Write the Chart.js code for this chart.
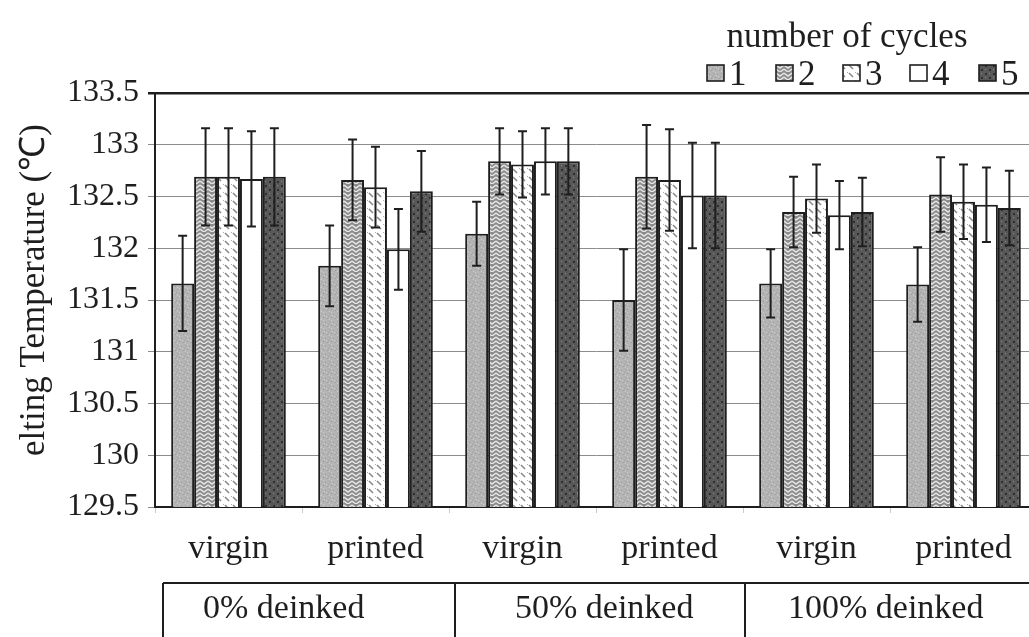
<!DOCTYPE html>
<html>
<head>
<meta charset="utf-8">
<script src="https://cdn.jsdelivr.net/npm/chart.js@4.4.1/dist/chart.umd.min.js"></script>
<style>
  html, body { margin: 0; padding: 0; background: #fff; overflow: hidden; }
  #wrap { position: relative; width: 1045px; height: 637px; }
</style>
</head>
<body>
<div id="wrap"><canvas id="chart"></canvas></div>
<script>
// ── Data ─────────────────────────────────────────────────
const categories = ["virgin", "printed", "virgin", "printed", "virgin", "printed"];
const groups = ["0% deinked", "50% deinked", "100% deinked"];
const cycles = ["1", "2", "3", "4", "5"];

const cycle1 = [131.66, 131.83, 132.14, 131.50, 131.66, 131.65];
const cycle2 = [132.69, 132.66, 132.84, 132.69, 132.35, 132.52];
const cycle3 = [132.69, 132.59, 132.81, 132.66, 132.48, 132.45];
const cycle4 = [132.67, 131.99, 132.84, 132.51, 132.32, 132.42];
const cycle5 = [132.69, 132.55, 132.84, 132.51, 132.35, 132.39];

const err1 = [0.46, 0.39, 0.31, 0.49, 0.33, 0.36];
const err2 = [0.47, 0.39, 0.32, 0.50, 0.34, 0.36];
const err3 = [0.47, 0.39, 0.32, 0.49, 0.33, 0.36];
const err4 = [0.46, 0.39, 0.32, 0.51, 0.33, 0.36];
const err5 = [0.47, 0.39, 0.32, 0.51, 0.33, 0.36];

const yTicks = [129.5, 130, 130.5, 131, 131.5, 132, 132.5, 133, 133.5];

const FONT = "'Liberation Serif', 'Times New Roman', serif";
const INK = "#1e1e1e";

// ── Fill patterns ────────────────────────────────────────
function makePattern(kind) {
  const c = document.createElement("canvas");
  c.width = 8; c.height = 8;
  const g = c.getContext("2d");
  if (kind === 1) {
    g.fillStyle = "#b4b4b4"; g.fillRect(0, 0, 8, 8);
    g.fillStyle = "#9c9c9c";
    [[1, 1], [5, 2], [3, 5], [7, 6], [0, 4]].forEach(([x, y]) => g.fillRect(x, y, 1, 1));
    g.fillStyle = "#cdcdcd";
    [[3, 0], [6, 4], [1, 7], [4, 3]].forEach(([x, y]) => g.fillRect(x, y, 1, 1));
  } else if (kind === 2) {
    g.fillStyle = "#8c8c8c"; g.fillRect(0, 0, 8, 8);
    g.strokeStyle = "#e6e6e6"; g.lineWidth = 1.4;
    g.beginPath(); g.moveTo(0, 1); g.lineTo(4, 4); g.lineTo(8, 1); g.stroke();
    g.beginPath(); g.moveTo(0, 5); g.lineTo(4, 8); g.lineTo(8, 5); g.stroke();
  } else if (kind === 3) {
    g.fillStyle = "#ffffff"; g.fillRect(0, 0, 8, 8);
    g.strokeStyle = "#8a8a8a"; g.lineWidth = 1.6;
    g.beginPath(); g.moveTo(1, 1); g.lineTo(5, 5); g.stroke();
    g.beginPath(); g.moveTo(5, -3); g.lineTo(9, 1); g.stroke();
  } else if (kind === 4) {
    g.fillStyle = "#ffffff"; g.fillRect(0, 0, 8, 8);
  } else {
    g.fillStyle = "#585858"; g.fillRect(0, 0, 8, 8);
    g.fillStyle = "#2e2e2e";
    g.fillRect(1, 1, 2, 2); g.fillRect(5, 5, 2, 2);
    g.fillStyle = "#8a8a8a";
    g.fillRect(5, 1, 1, 1); g.fillRect(1, 5, 1, 1);
  }
  return g.createPattern(c, "repeat");
}

const seriesValues = [cycle1, cycle2, cycle3, cycle4, cycle5];
const seriesErrors = [err1, err2, err3, err4, err5];

const datasets = cycles.map((name, i) => ({
  label: name,
  data: seriesValues[i],
  errors: seriesErrors[i],
  backgroundColor: makePattern(i + 1),
  borderColor: INK,
  borderWidth: 2,
  categoryPercentage: 0.78,
  barPercentage: 1.0,
}));

// ── Error bars ───────────────────────────────────────────
const errorBars = {
  id: "errorBars",
  afterDatasetsDraw(chart) {
    const ctx = chart.ctx;
    const y = chart.scales.y;
    ctx.save();
    ctx.strokeStyle = INK;
    ctx.lineWidth = 2;
    chart.data.datasets.forEach((ds, di) => {
      chart.getDatasetMeta(di).data.forEach((bar, i) => {
        const v = ds.data[i], e = ds.errors[i];
        const top = y.getPixelForValue(v + e);
        const bot = y.getPixelForValue(v - e);
        ctx.beginPath();
        ctx.moveTo(bar.x, top); ctx.lineTo(bar.x, bot);
        ctx.moveTo(bar.x - 4.5, top); ctx.lineTo(bar.x + 4.5, top);
        ctx.moveTo(bar.x - 4.5, bot); ctx.lineTo(bar.x + 4.5, bot);
        ctx.stroke();
      });
    });
    ctx.restore();
  },
};

// ── Legend, axis title, group table ──────────────────────
const decorations = {
  id: "decorations",
  afterDraw(chart) {
    const ctx = chart.ctx;
    ctx.save();
    ctx.fillStyle = INK;
    ctx.font = `35px ${FONT}`;
    ctx.textBaseline = "alphabetic";

    // legend
    ctx.textAlign = "center";
    ctx.fillText("number of cycles", 847, 47);
    const legendX = [707, 776, 843, 910, 979];
    chart.data.datasets.forEach((ds, i) => {
      const x = legendX[i];
      ctx.fillStyle = ds.backgroundColor;
      ctx.fillRect(x, 65, 17, 16);
      ctx.strokeStyle = INK;
      ctx.lineWidth = 1.6;
      ctx.strokeRect(x, 65, 17, 16);
      ctx.fillStyle = INK;
      ctx.textAlign = "left";
      ctx.fillText(ds.label, x + 22, 85);
    });

    // y-axis title (cropped in the original)
    ctx.save();
    ctx.translate(44, 290);
    ctx.rotate(-Math.PI / 2);
    ctx.textAlign = "center";
    ctx.fillText("elting Temperature (\u2103)", 0, 0);
    ctx.restore();

    // group table
    ctx.strokeStyle = INK;
    ctx.lineWidth = 2;
    ctx.beginPath();
    ctx.moveTo(163, 583); ctx.lineTo(1045, 583);
    [163, 455, 745].forEach((x) => { ctx.moveTo(x, 583); ctx.lineTo(x, 637); });
    ctx.stroke();
    ctx.font = `34px ${FONT}`;
    ctx.textAlign = "left";
    const groupX = [203, 515, 788];
    groups.forEach((g, i) => ctx.fillText(g, groupX[i], 618));
    ctx.restore();
  },
};

// ── Chart ────────────────────────────────────────────────
new Chart(document.getElementById("chart"), {
  type: "bar",
  data: { labels: categories, datasets },
  options: {
    responsive: true,
    maintainAspectRatio: false,
    animation: false,
    layout: { padding: { top: 93, left: 0, right: 8, bottom: 0 } },
    plugins: { legend: { display: false }, tooltip: { enabled: false } },
    scales: {
      x: {
        afterFit: (s) => { s.height = 130; },
        border: { color: INK, width: 2 },
        grid: { drawOnChartArea: false, tickLength: 6, color: "#cccccc" },
        ticks: { color: INK, font: { family: FONT, size: 34 }, padding: 16 },
      },
      y: {
        min: 129.5,
        max: 133.5,
        afterFit: (s) => { s.width = 155; },
        afterBuildTicks: (s) => { s.ticks = yTicks.map((v) => ({ value: v })); },
        border: { color: INK, width: 2 },
        grid: {
          tickLength: 7,
          color: (c) => (c.tick && c.tick.value === 133.5 ? INK : "#8c8c8c"),
          lineWidth: (c) => (c.tick && c.tick.value === 133.5 ? 2.5 : 1),
        },
        ticks: {
          color: INK,
          font: { family: FONT, size: 32 },
          padding: 9,
          callback: (v) => String(v),
        },
      },
    },
  },
  plugins: [errorBars, decorations],
});
</script>
</body>
</html>
